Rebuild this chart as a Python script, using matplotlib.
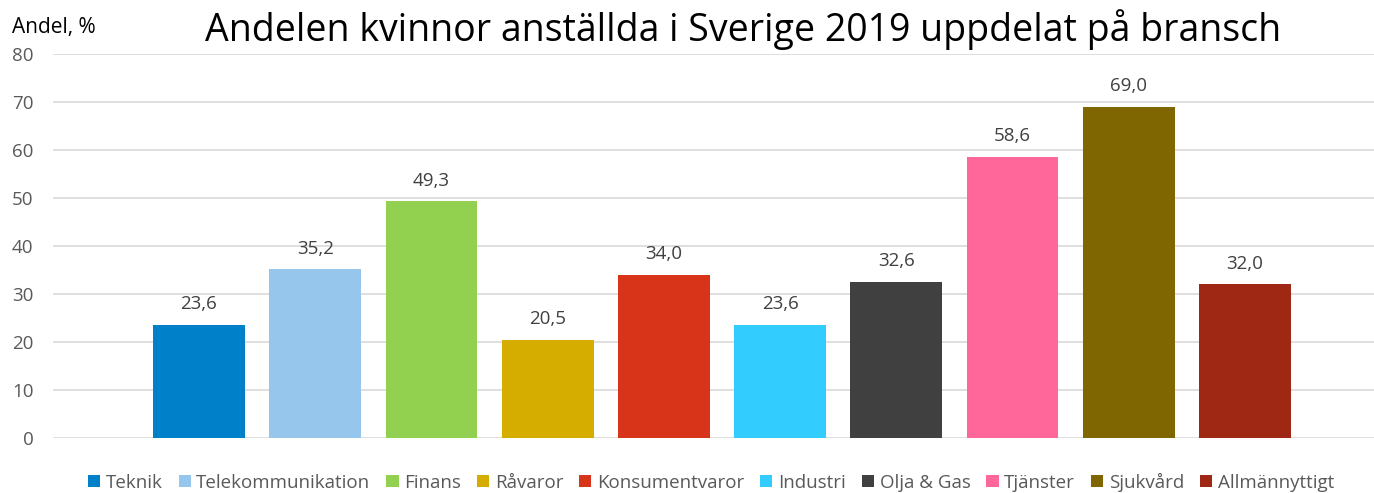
import matplotlib
matplotlib.use("Agg")
import matplotlib.pyplot as plt
from matplotlib.patches import Patch

categories = ["Teknik", "Telekommunikation", "Finans", "Råvaror", "Konsumentvaror",
              "Industri", "Olja & Gas", "Tjänster", "Sjukvård", "Allmännyttigt"]
values = [23.6, 35.2, 49.3, 20.5, 34.0, 23.6, 32.6, 58.6, 69.0, 32.0]
colors = ["#0080C8", "#96C6EC", "#92D050", "#D5AD00", "#D7341A",
          "#33CCFF", "#404040", "#FF6699", "#806600", "#9E2813"]
yticks = [0, 10, 20, 30, 40, 50, 60, 70, 80]

plt.rcParams['font.family'] = ['Open Sans', 'DejaVu Sans']

W, H = 1374, 493
fig = plt.figure(figsize=(W/100, H/100), dpi=100)
ax_left, ax_right = 53, 1374
ax_top, ax_bot = 54, 438
ax = fig.add_axes([ax_left/W, 1-ax_bot/H, (ax_right-ax_left)/W, (ax_bot-ax_top)/H])

x = list(range(len(categories)))
bars = ax.bar(x, values, width=0.79, color=colors, zorder=3)
for xi, v in zip(x, values):
    ax.text(xi, v + 2.4, f"{v:.1f}".replace(".", ","), ha="center", va="bottom",
            fontsize=13.5, color="#404040")

ax.set_xlim(-1.256, 10.11)
ax.set_ylim(0, 80)
ax.set_yticks(yticks)
ax.set_yticklabels([str(t) for t in yticks], fontsize=13.5, color="#595959")
ax.tick_params(axis="y", length=0, pad=14)
ax.set_xticks([])
ax.grid(axis="y", color="#D9D9D9", linewidth=1.2, zorder=0)
for s in ax.spines.values():
    s.set_visible(False)

fig.text(12/W, 1-28/H, "Andel, %", fontsize=15, color="#000000", ha="left", va="center")
fig.text(743/W, 1-30/H, "Andelen kvinnor anställda i Sverige 2019 uppdelat på bransch",
         fontsize=27, color="#000000", ha="center", va="center")

handles = [Patch(facecolor=c, edgecolor="none") for c in colors]
leg = fig.legend(handles, categories, loc="center", bbox_to_anchor=(711/W, 1-482/H),
                 ncol=len(categories), frameon=False, fontsize=13.5,
                 handlelength=0.65, handleheight=0.65, handletextpad=0.3, columnspacing=0.85)
for t in leg.get_texts():
    t.set_color("#595959")

fig.savefig("out.png", dpi=100)
